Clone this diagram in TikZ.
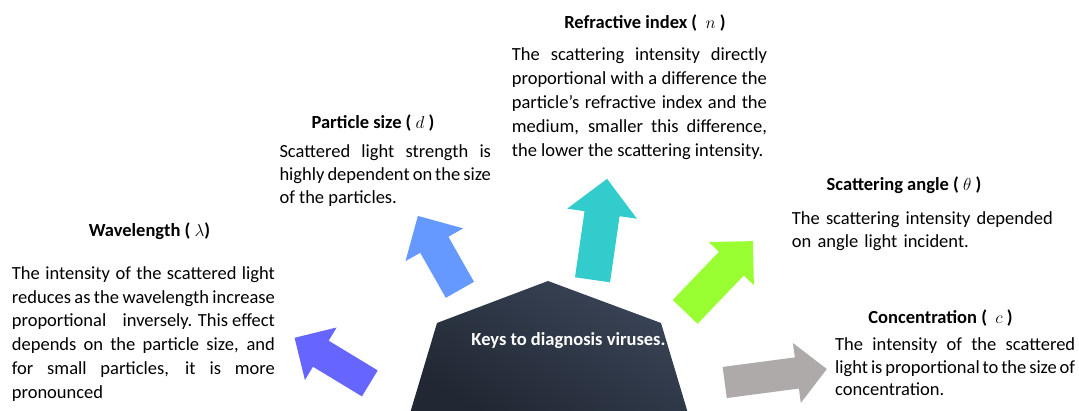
\documentclass[tikz,border=0pt]{standalone}
\usepackage{fontspec}
\setmainfont{Carlito}
\usepackage{tikz}
\usetikzlibrary{
  shapes.arrows, % for the single arrow shape of the block arrows
}
\definecolor{wavecolor}{HTML}{6666FF}
\definecolor{sizecolor}{HTML}{6699FF}
\definecolor{indexcolor}{HTML}{33CCCC}
\definecolor{anglecolor}{HTML}{99FF33}
\definecolor{conccolor}{HTML}{AEAAAA}
\definecolor{hubtop}{HTML}{3A4558}
\definecolor{hubbottom}{HTML}{212833}
\hyphenpenalty=10000 % keep whole words on the forced lines
\tolerance=9999
\tikzset{
  keyarrow/.style={ % style for the block arrows round the hub
    single arrow,draw=none, % filled arrow, no outline
    inner xsep=0pt, % the length comes from minimum height only
    anchor=tail, % each arrow is placed by the middle of its tail
  },
  heading/.style={ % style for the bold headings
    font=\fontsize{18.5}{22}\selectfont\bfseries,
    inner sep=0pt, % no padding, so the baseline sits where it is placed
    anchor=base,
  },
  body/.style={ % style for the text blocks
    font=\fontsize{18.5}{#1}\selectfont,
    inner sep=0pt,
    align=justify, % justified paragraphs
    anchor=base west, % placed by the baseline of the first line
  },
  body/.default=23.8,
}

\begin{document}
\begin{tikzpicture}[x=1pt,y=1pt]
	\useasboundingbox (0,0) rectangle (1079,411);
	
	% central hub
	\coordinate (peak) at (548,130);
	\coordinate (hubl) at (437,88);
	\coordinate (hubr) at (661,88);
	\coordinate (footl) at (410.7,0);
	\coordinate (footr) at (687.3,0);
	\shade[top color=hubtop,bottom color=hubbottom,shading angle=-30]
		(footl) -- (hubl) -- (peak) -- (hubr) -- (footr) -- cycle;
	
	\node (hub) [font=\fontsize{18.5}{22}\selectfont\bfseries,text=white,anchor=base] at (568.5,65) {Keys to diagnosis viruses.};
	
	% arrows
	\node (wavearrow) [keyarrow,fill=wavecolor,rotate=148.8,minimum height=88pt,inner ysep=15pt,single arrow head extend=15.5pt] at (370,27.5) {};
	
	\node (sizearrow) [keyarrow,fill=sizecolor,rotate=119.6,minimum height=85pt,inner ysep=16pt,single arrow head extend=17pt] at (460,121) {};
	
	\node (indexarrow) [keyarrow,fill=indexcolor,rotate=81.8,minimum height=102pt,inner ysep=17.5pt,single arrow head extend=17.5pt] at (592.5,131) {};
	
	\node (anglearrow) [keyarrow,fill=anglecolor,rotate=46.2,minimum height=98pt,inner ysep=17pt,single arrow head extend=14pt] at (685,99) {};
	
	\node (concarrow) [keyarrow,fill=conccolor,rotate=7.5,minimum height=103pt,inner ysep=15.5pt,single arrow head extend=14.5pt] at (724.5,28.5) {};
	
	% headings
	\node (wavetitle) [heading] at (149.5,174.3) {Wavelength ( $\lambda$)};
	
	\node (sizetitle) [heading] at (373,282.7) {Particle size ( $d$ )};
	
	\node (indextitle) [heading] at (645,382.7) {Refractive index (\ \ $n$ )};
	
	\node (angletitle) [heading] at (904,220) {Scattering angle ( $\theta$ )};
	
	\node (conctitle) [heading] at (940.5,87.7) {Concentration (\ \ $c$ )};
	
	% text blocks
	\node (wavetext) [body,text width=263pt] at (11.7,131.7) {The intensity of the scattered light\linebreak reduces as the wavelength increase\linebreak proportional\hfill inversely. This effect\linebreak depends on the particle size, and\linebreak for small particles, it is more\linebreak pronounced};
	
	\node (sizetext) [body=23.3,text width=211.5pt] at (279.3,253.7) {Scattered light strength is\linebreak highly dependent on the size\linebreak of the particles.};
	
	\node (indextext) [body=23.9,text width=255pt] at (511.7,350) {The scattering intensity directly\linebreak proportional with a difference the\linebreak particle’s refractive index and the\linebreak medium, smaller this difference,\linebreak the lower the scattering intensity.};
	
	\node (angletext) [body=22.3,align=left,text width=270pt] at (791.7,186) {The scattering intensity depended\\on angle light incident.};
	
	\node (conctext) [body=22.5,text width=240pt] at (835,60) {\spaceskip=1.8pt plus 20pt minus 0.5pt The intensity of the scattered\linebreak light is proportional to the size of\linebreak concentration.};
\end{tikzpicture}
\end{document}
